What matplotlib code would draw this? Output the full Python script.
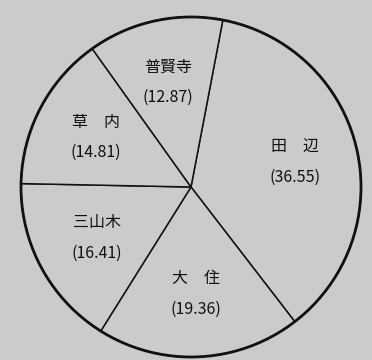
import matplotlib.pyplot as plt
from matplotlib.patches import Circle

plt.rcParams['font.family'] = ['Noto Sans CJK JP', 'DejaVu Sans']

# 地区別の割合 (%)
names = ['田　辺', '大　住', '三山木', '草　内', '普賢寺']
values = [36.55, 19.36, 16.41, 14.81, 12.87]

bg = '#cbcbcb'

fig = plt.figure(figsize=(3.72, 3.60), dpi=100, facecolor=bg)
ax = fig.add_axes([0, 0, 1, 1])
ax.set_facecolor(bg)

labels = ['{}\n({:.2f})'.format(n, v) for n, v in zip(names, values)]
wedges, texts = ax.pie(values, labels=labels, startangle=79.2, counterclock=False,
                       colors=[bg] * len(values), labeldistance=0.63,
                       wedgeprops=dict(edgecolor='#111111', linewidth=1.1),
                       textprops=dict(fontsize=11.5, color='#111111', linespacing=2.0))
for t in texts:
    t.set_ha('center')
    t.set_va('center')

# outer rim a bit heavier than the dividers
ax.add_patch(Circle(wedges[0].center, wedges[0].r, fill=False,
                    edgecolor='#111111', linewidth=2.0))

ax.set_xlim(-191 / 170, 181 / 170)
ax.set_ylim(-173 / 170, 187 / 170)
ax.set_aspect('auto')
ax.axis('off')

fig.savefig('out.png', dpi=100, facecolor=bg)
